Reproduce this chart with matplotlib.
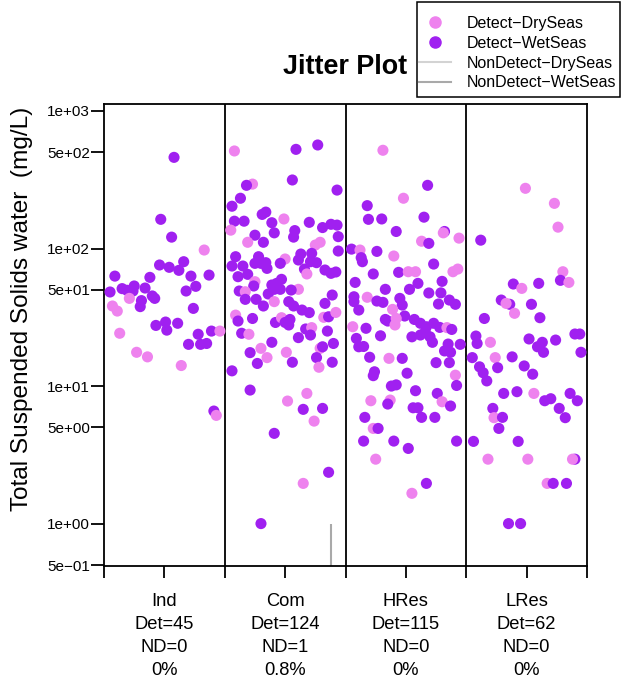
import numpy as np
import matplotlib
matplotlib.use('Agg')
import matplotlib.pyplot as plt
from matplotlib.lines import Line2D
from matplotlib.patches import Rectangle
from matplotlib.ticker import NullLocator

plt.rcParams['font.family'] = ['Liberation Sans', 'DejaVu Sans']

# groups and counts shown under the axis
groups = ['Ind', 'Com', 'HRes', 'LRes']
det_n = [45, 124, 115, 62]
nd_n = [0, 1, 0, 0]
nd_pct = ['0%', '0.8%', '0%', '0%']

# detected values (mg/L), jitter offsets and season (D = DrySeas, W = WetSeas)
ind_val = [460, 163, 121, 97.5, 75.9, 73, 80.2, 69.4, 63, 61.7,
           63, 64.1, 48.3, 51.1, 49.7, 53.4, 49.1, 51.6, 49.1, 53.1,
           43.4, 45.2, 43.4, 41.8, 37.8, 38.2, 35.1, 36.7, 27.6, 29.2,
           25.5, 28.6, 24.2, 23.8, 25.1, 25.1, 20.1, 20.1, 20.4, 17.6,
           16.3, 14.1, 6.58, 6.12]
ind_jit = [0.08, -0.03, 0.06, 0.33, -0.04, 0.04, 0.16, 0.12, -0.41, -0.12,
           0.22, 0.37, -0.45, -0.35, -0.31, -0.25, -0.26, -0.16, 0.18, 0.26,
           -0.29, -0.10, -0.08, -0.19, -0.20, -0.43, -0.39, 0.24, -0.07, 0.01,
           0.02, 0.11, -0.37, 0.28, 0.39, 0.46, 0.20, 0.30, 0.35, -0.23,
           -0.14, 0.14, 0.41, 0.43]
ind_season = "WWWDWWWWWW" "WWWWWWWWWW" "DWWWWDDWWW" "WWDWWDWWWD" "DDWD"

com_val = [512, 526, 566, 315, 294, 288, 266, 232, 203, 177,
           184, 164, 158, 158, 154, 155, 136, 130, 135, 121,
           142, 150, 148, 122, 125, 111, 111, 106, 111, 95.9,
           87.2, 87.2, 91.2, 92.2, 74.6, 74.6, 78, 78, 78.9, 83.9,
           78, 82.5, 80.2, 78.9, 62.4, 64.9, 71.7, 70.9, 65.3, 69.8,
           66, 67.5, 57.4, 53.4, 54.3, 55.8, 59.7, 50.5, 50.5, 46.7,
           50.5, 49.9, 49.1, 48.5, 42.7, 42.7, 41.1, 45.9, 39.9, 41.1,
           38.2, 35.7, 34.2, 38.2, 32.8, 29.7, 31.0, 29.0, 31.4, 29.0,
           30.5, 27.8, 31.6, 31.9, 34.3, 24.2, 23.8, 26.0, 26.6, 23.5,
           22.5, 25.1, 20.8, 18.8, 17.5, 16.1, 17.6, 18.8, 19.3, 20.4,
           14.6, 14.9, 16.1, 13.7, 14.9, 12.9, 9.35, 8.84, 7.78, 6.77,
           6.88, 5.56, 4.53, 2.36, 1.96, 1.0]
com_jit = [-0.42, 0.09, 0.27, 0.06, -0.27, -0.32, 0.43, -0.37, -0.44, -0.19,
           -0.16, -0.01, -0.42, -0.34, -0.11, 0.20, -0.45, -0.09, 0.08, 0.07,
           0.31, 0.38, 0.43, 0.44, -0.25, -0.31, -0.18, 0.25, 0.29, 0.44,
           -0.41, -0.22, 0.13, 0.22, -0.44, -0.35, -0.25, -0.20, -0.16, 0.00,
           -0.04, 0.11, 0.21, 0.26, -0.39, -0.31, -0.15, 0.16, 0.18, 0.33,
           0.38, 0.42, -0.25, -0.26, -0.11, -0.07, -0.03, -0.09, -0.04, -0.14,
           0.11, 0.05, -0.38, -0.33, -0.33, -0.24, -0.09, 0.39, 0.33, 0.03,
           0.07, 0.14, 0.20, -0.18, -0.41, -0.39, -0.27, -0.08, -0.03, 0.00,
           0.04, 0.03, 0.32, 0.36, 0.42, -0.36, -0.30, 0.17, 0.22, 0.21,
           0.11, 0.35, -0.11, -0.20, -0.29, -0.15, 0.01, 0.29, 0.31, 0.40,
           -0.23, 0.06, 0.26, 0.28, 0.39, -0.44, -0.29, 0.18, 0.02, 0.15,
           0.31, 0.24, -0.09, 0.36, 0.15, -0.20]
com_season = ("DWWWDWWWWW" "WDWWWWDWWW" "WWWWWDWDDW" "WWWWWWWWWD"
              "WWWWWWWWDW" "WWDWWWWWWW" "DWWDWWDWWW" "WWWWDWWWDW"
              "WWDWDWDWDW" "WWWDWDDDWW" "WWWDWWWDDW" "WDWWDW")

hres_val = [518, 288, 232, 205, 163, 164, 169, 133, 133, 130,
            119, 113, 109, 99, 97.5, 95.3, 85.8, 80.2, 88.2, 77.1,
            65.3, 67.1, 67.8, 67.8, 67.8, 70.9, 56.7, 57.7, 50.5, 55.8,
            50.5, 47.5, 47.6, 44.6, 41.1, 44.2, 41.5, 40.6, 43.4, 38.8,
            39.5, 42.2, 39.3, 35.7, 36.1, 32.3, 30.5, 29.7, 31.0, 27.8,
            30.5, 28.6, 27.0, 28.6, 26.7, 24.8, 23.5, 22.8, 22.8, 20.8,
            26.6, 25.8, 27.0, 26.3, 23.2, 22.2, 19.3, 19.4, 20.2, 20.1,
            17.6, 18.0, 16.2, 15.9, 15.9, 14.8, 14.8, 12.7, 11.9, 12.4,
            12.0, 10.0, 10.2, 10.1, 9.25, 8.84, 7.82, 7.91, 7.40, 7.69,
            7.16, 6.95, 6.95, 5.92, 5.92, 5.92, 4.92, 4.92, 3.98, 3.98,
            3.98, 3.52, 2.94, 1.96, 1.66]
hres_jit = [-0.19, 0.18, -0.02, -0.32, -0.31, -0.20, 0.15, -0.08, 0.32, 0.31,
            0.44, 0.13, 0.19, -0.45, -0.38, -0.24, -0.37, -0.36, -0.10, 0.23,
            -0.27, -0.06, 0.02, 0.08, 0.39, 0.43, -0.42, 0.30, -0.17, 0.10,
            0.03, 0.19, 0.29, -0.43, -0.43, -0.32, -0.24, -0.19, -0.05, -0.03,
            0.27, 0.36, 0.41, -0.39, -0.11, -0.01, -0.17, -0.15, -0.08, -0.09,
            0.07, 0.12, 0.17, 0.23, 0.28, 0.16, 0.12, 0.05, 0.20, 0.22,
            0.34, 0.38, -0.44, -0.33, -0.21, -0.41, -0.39, -0.35, 0.35, 0.45,
            0.37, 0.32, -0.30, -0.14, -0.03, 0.25, 0.36, -0.26, -0.27, 0.01,
            0.41, -0.12, -0.08, 0.42, 0.08, 0.26, -0.29, -0.13, -0.15, 0.30,
            0.37, 0.06, 0.10, 0.13, 0.24, -0.34, -0.27, -0.23, -0.35, -0.10,
            0.42, 0.02, -0.25, 0.17, 0.05]
hres_season = ("DWDWWWWWWD" "DDWWDWWWDW" "WWDDDDWWWW" "WWWWWDWWWW"
               "WWWWDWWWDD" "WWWWWWWWWW" "DWDWWWWWWW" "WWWDWWWWWW"
               "DWWWWWDDWD" "WWWWWWDWWW" "WWDWD")

lres_val = [274, 213, 143, 115, 67.8, 55.2, 51.3, 55.8, 58.7, 56.7,
            42.2, 39.3, 39.9, 39.3, 33.8, 31.0, 31.4, 23.1, 20.4, 20.8,
            22.0, 20.8, 19.3, 17.6, 21.6, 23.9, 23.9, 17.6, 16.1, 16.1,
            16.3, 13.6, 13.8, 12.5, 10.9, 14.0, 12.2, 8.84, 9.10, 8.84,
            7.82, 8.09, 8.84, 7.82, 6.88, 6.88, 5.89, 5.92, 5.89, 4.92,
            3.96, 3.96, 2.94, 2.94, 2.94, 2.94, 1.96, 1.96, 1.96, 1.0,
            1.0]
lres_jit = [-0.01, 0.23, 0.26, -0.38, 0.30, -0.11, -0.04, 0.10, 0.28, 0.35,
            -0.21, -0.14, -0.17, 0.04, -0.10, -0.35, 0.11, -0.42, -0.41, -0.30,
            0.02, 0.13, 0.09, 0.14, 0.24, 0.40, 0.44, 0.45, -0.45, -0.26,
            -0.12, -0.24, -0.39, -0.36, -0.33, -0.02, 0.05, -0.19, -0.08, 0.06,
            0.15, 0.20, 0.36, 0.42, -0.28, 0.27, -0.27, -0.20, 0.32, -0.23,
            -0.44, -0.07, -0.32, 0.01, 0.40, 0.38, 0.17, 0.22, 0.33, -0.15,
            -0.05]
lres_season = ("DDDWDWDWWD" "WWDWDWWWWD" "WWWWWWWWWD" "WWWWWWWWWD"
               "WWWWWWDWWW" "WWDDWDDWWW" "W")

# non-detects: group number, detection limit, jitter, season
nd_group = [2]
nd_limit = [1.0]
nd_jit = [0.38]
nd_season = "W"

yticks = [0.5, 1, 5, 10, 50, 100, 500, 1000]

det_col = {'D': '#EE82EE', 'W': '#A020F0'}
nd_col = {'D': '#D3D3D3', 'W': '#A9A9A9'}

fig = plt.figure(figsize=(6.24, 6.81), dpi=100)
ax = fig.add_axes([104 / 624, 1 - 566 / 681, 483 / 624, 462 / 681])

all_sets = [(ind_val, ind_jit, ind_season), (com_val, com_jit, com_season),
            (hres_val, hres_jit, hres_season), (lres_val, lres_jit, lres_season)]
for i, (vals, jit, seas) in enumerate(all_sets):
    x = i + 1 + np.array(jit)
    ax.scatter(x, vals, s=64, c=[det_col[s] for s in seas],
               edgecolors='none', zorder=3)

# non-detects drawn as a line from 0 up to the detection limit
for g, lim, j, s in zip(nd_group, nd_limit, nd_jit, nd_season):
    ax.vlines(g + j, 1e-3, lim, color=nd_col[s], lw=1.5, zorder=2)

# group separators
for b in np.arange(1.5, len(groups), 1.0):
    ax.axvline(b, color='black', lw=1.3, zorder=1)

ax.set_yscale('log')
ax.set_ylim(0.4917, 1124)
ax.set_xlim(0.5, len(groups) + 0.5)
ax.set_yticks(yticks)
ax.set_yticklabels([f"{v:.0e}".replace('-', '\u2212') for v in yticks])
ax.yaxis.set_minor_locator(NullLocator())

xlabels = [f"{g}\nDet={d}\nND={n}\n{p}" for g, d, n, p in zip(groups, det_n, nd_n, nd_pct)]
ax.set_xticks(range(1, len(groups) + 1))
ax.set_xticklabels(xlabels)
ax.set_xticks(np.arange(0.5, len(groups) + 1, 1.0), minor=True)
for t in ax.get_xticklabels():
    t.set_linespacing(1.45)

ax.tick_params(axis='x', which='both', direction='out', length=8.6, width=1.3,
               pad=11, labelsize=13.2)
ax.tick_params(axis='y', direction='out', length=9.4, width=1.3, pad=0.8,
               labelsize=11)
for sp in ax.spines.values():
    sp.set_linewidth(1.3)

fig.text(22 / 624, 1 - 309 / 681, 'Total Suspended Solids water  (mg/L)',
         rotation=90, ha='center', va='center', fontsize=17.6)
fig.text(345.5 / 624, 1 - 67 / 681, 'Jitter Plot', ha='center', va='center',
         fontsize=19.4, fontweight='bold')

# legend: entries without frame, box drawn separately
handles = [Line2D([], [], marker='o', ls='none', color=det_col['D'], markersize=8),
           Line2D([], [], marker='o', ls='none', color=det_col['W'], markersize=8),
           Line2D([], [], color=nd_col['D'], lw=1.5),
           Line2D([], [], color=nd_col['W'], lw=1.5)]
labels = ['Detect\u2212DrySeas', 'Detect\u2212WetSeas',
          'NonDetect\u2212DrySeas', 'NonDetect\u2212WetSeas']
fig.legend(handles, labels, loc='upper right',
           bbox_to_anchor=(616 / 624, 1 - 16 / 681), fontsize=11.5,
           frameon=False, handlelength=2.0, handletextpad=0.95,
           labelspacing=0.3, borderpad=0, borderaxespad=0)
fig.patches.append(Rectangle((417 / 624, 1 - 97 / 681), 203 / 624, 95 / 681,
                             transform=fig.transFigure, fill=False,
                             edgecolor='black', lw=1.1))

fig.savefig('out.png', dpi=100)
